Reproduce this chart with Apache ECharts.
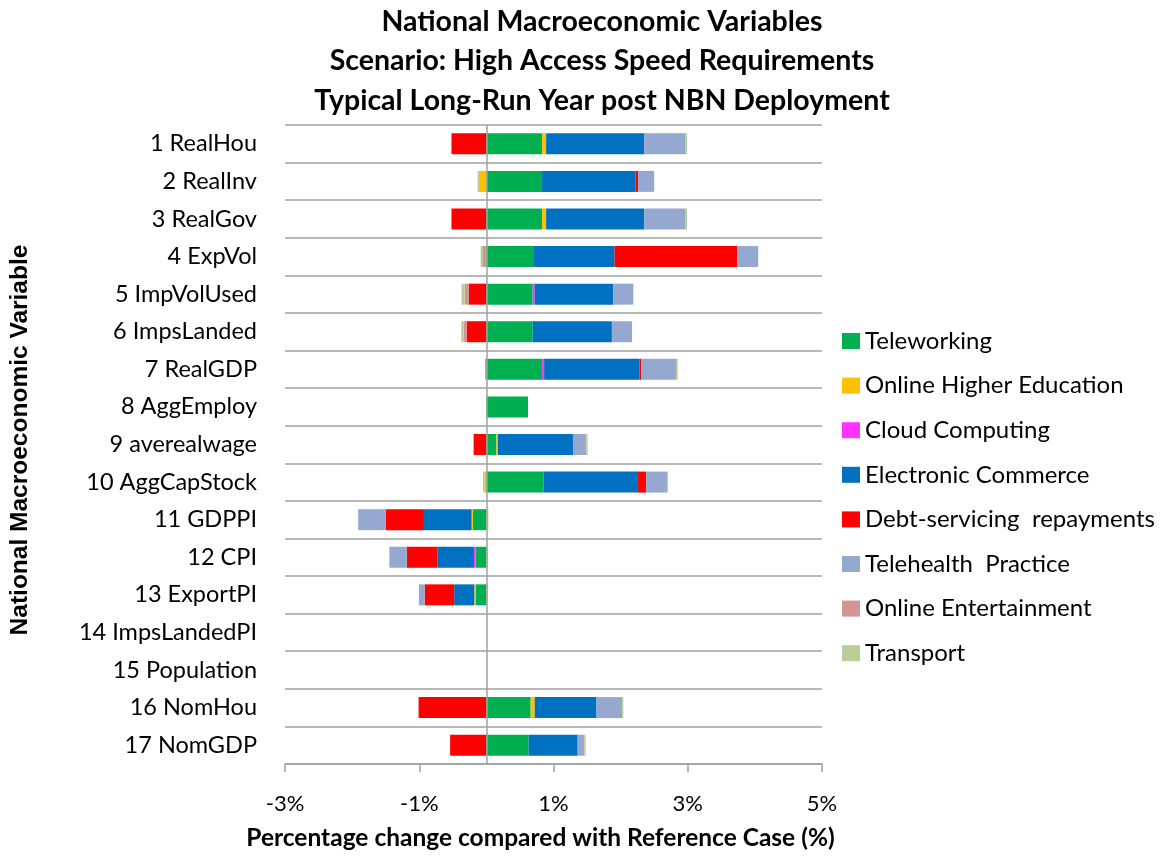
<!DOCTYPE html>
<html>
<head>
<meta charset="utf-8">
<script src="https://cdn.jsdelivr.net/npm/echarts@6/dist/echarts.min.js"></script>
<style>
  html, body { margin: 0; padding: 0; background: #fff; }
  #main { width: 1173px; height: 856px; }
</style>
</head>
<body>
<div id="main"></div>
<script>
// categories, top to bottom
var categories = ['1 RealHou', '2 RealInv', '3 RealGov', '4 ExpVol', '5 ImpVolUsed', '6 ImpsLanded',
  '7 RealGDP', '8 AggEmploy', '9 averealwage', '10 AggCapStock', '11 GDPPI', '12 CPI',
  '13 ExportPI', '14 ImpsLandedPI', '15 Population', '16 NomHou', '17 NomGDP'];

// percentage change per contributor
var teleworking   = [0.83, 0.83, 0.83, 0.71, 0.69, 0.69, 0.83, 0.62, 0.15, 0.85, -0.20, -0.16, -0.16, 0, 0, 0.66, 0.63];
var onlineHigherEd = [0.06, -0.11, 0.06, 0, 0, 0, 0, 0, 0.02, -0.03, -0.02, 0, -0.02, 0, 0, 0.06, 0];
var cloudComputing = [0, 0, 0, 0, 0.03, 0, 0.03, 0, 0, 0, 0, -0.025, 0, 0, 0, 0, 0];
var eCommerce     = [1.46, 1.39, 1.46, 1.20, 1.17, 1.18, 1.42, 0, 1.12, 1.41, -0.71, -0.54, -0.30, 0, 0, 0.92, 0.73];
var debtServicing = [-0.52, 0.04, -0.52, 1.83, -0.26, -0.29, 0.025, 0, -0.19, 0.12, -0.57, -0.46, -0.44, 0, 0, -1.01, -0.54];
var telehealth    = [0.61, 0.24, 0.61, 0.31, 0.30, 0.30, 0.52, 0, 0.18, 0.32, -0.41, -0.26, -0.085, 0, 0, 0.38, 0.08];
var entertainment = [0, 0, 0, -0.05, -0.065, -0.05, -0.02, 0, 0.02, 0, 0, 0, 0, 0, 0, 0, 0.02];
var transport     = [0.03, -0.02, 0.03, -0.035, -0.045, -0.035, 0.025, 0, 0.02, -0.02, 0.03, 0.02, 0.02, 0, 0, 0.02, 0.02];

var seriesNames = ['Teleworking', 'Online Higher Education', 'Cloud Computing', 'Electronic Commerce',
  'Debt-servicing  repayments', 'Telehealth  Practice', 'Online Entertainment', 'Transport'];
var seriesData = [teleworking, onlineHigherEd, cloudComputing, eCommerce, debtServicing, telehealth, entertainment, transport];
var seriesColors = ['#00B050', '#FFC000', '#FF33FF', '#0070C0', '#FF0000', '#95A9D0', '#D39494', '#BACF97'];

var gray = '#A0A0A0';
var font = 'Lato';

var series = [];
for (var i = 0; i < seriesNames.length; i++) {
  var s = {
    name: seriesNames[i],
    type: 'bar',
    stack: 'total',
    barWidth: 21,
    itemStyle: { color: seriesColors[i] },
    data: seriesData[i]
  };
  if (i == 0) {
    // the vertical zero line
    s.markLine = {
      silent: true,
      symbol: 'none',
      label: { show: false },
      lineStyle: { color: gray, type: 'solid', width: 1.5 },
      data: [{ xAxis: 0 }]
    };
  }
  series.push(s);
}

var chart = echarts.init(document.getElementById('main'));
chart.setOption({
  animation: false,
  title: {
    text: 'National Macroeconomic Variables\nScenario: High Access Speed Requirements\nTypical Long-Run Year post NBN Deployment',
    left: 597,
    top: -3,
    textAlign: 'center',
    textStyle: { fontFamily: font, fontSize: 28.5, fontWeight: 'bold', color: '#000', lineHeight: 39.5 }
  },
  legend: {
    orient: 'vertical',
    left: 837,
    top: 324,
    itemWidth: 18,
    itemHeight: 16,
    itemGap: 20.6,
    icon: 'rect',
    textStyle: { fontFamily: font, fontSize: 24, color: '#000', lineHeight: 24 },
    data: seriesNames
  },
  grid: { left: 285, right: 351, top: 125, bottom: 87 },
  xAxis: {
    type: 'value',
    min: -3,
    max: 5,
    interval: 2,
    name: 'Percentage change compared with Reference Case (%)',
    nameLocation: 'middle',
    nameGap: 62,
    nameTextStyle: { fontFamily: font, fontSize: 24.5, fontWeight: 'bold', color: '#000', padding: [0, 26, 0, 0] },
    axisLine: { show: true, lineStyle: { color: gray, width: 1.5 } },
    axisTick: { show: true, length: 8, lineStyle: { color: gray, width: 1.5 } },
    axisLabel: { formatter: '{value}%', fontFamily: font, fontSize: 22, color: '#000', margin: 29 },
    splitLine: { show: false }
  },
  yAxis: {
    type: 'category',
    inverse: true,
    data: categories,
    name: 'National Macroeconomic Variable',
    nameLocation: 'middle',
    nameGap: 252,
    nameRotate: 90,
    nameTextStyle: { fontFamily: 'Liberation Sans', fontSize: 24.5, fontWeight: 'bold', color: '#000', padding: [0, 0, 0, 9] },
    axisLine: { show: false, onZero: false },
    axisTick: { show: false },
    axisLabel: { interval: 0, fontFamily: font, fontSize: 23.5, color: '#000', margin: 28 },
    splitLine: { show: true, interval: 0, lineStyle: { color: gray, width: 1.5 } }
  },
  series: series
});
</script>
</body>
</html>
